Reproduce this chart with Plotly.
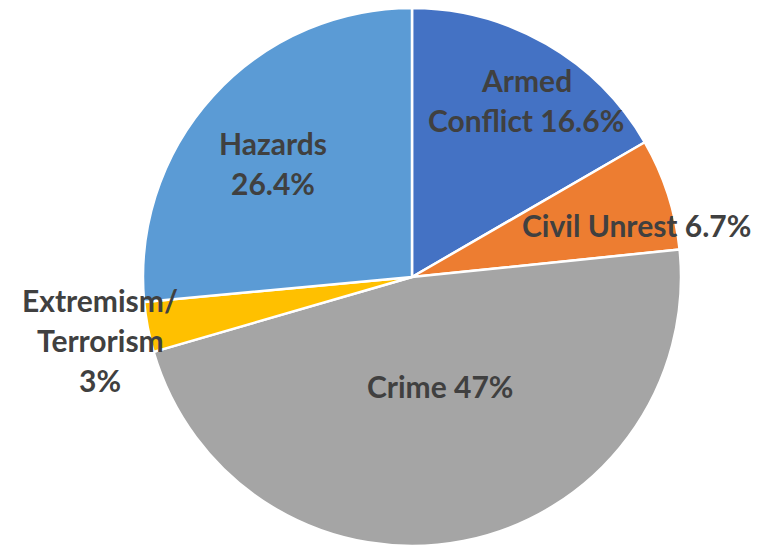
import plotly.graph_objects as go

categories = ["Armed Conflict", "Civil Unrest", "Crime", "Extremism/Terrorism", "Hazards"]
values = [16.6, 6.7, 47, 3, 26.4]
colors = ["#4472C4", "#ED7D31", "#A5A5A5", "#FFC000", "#5B9BD5"]

# label text lines (built from data) and their placement (style)
label_lines = [
    ["Armed", "Conflict {v}%"],
    ["Civil Unrest {v}%"],
    ["Crime {v}%"],
    ["Extremism/", "Terrorism", "{v}%"],
    ["Hazards", "{v}%"],
]
OFF = 8  # page body margin
label_pos = [  # (x px, y px of first line) in window coordinates
    (526, 80),
    (636, 225),
    (440, 386),
    (100, 300),
    (273, 143),
]
line_gap = 40

W, H = 771, 546
fig = go.Figure(go.Pie(
    labels=categories,
    values=values,
    sort=False,
    direction="clockwise",
    rotation=0,
    marker=dict(colors=colors, line=dict(color="white", width=2.5)),
    textinfo="none",
    hoverinfo="label+percent",
    domain=dict(x=[(141 - OFF) / W, (683 - OFF) / W],
                y=[1 - (546 - OFF) / H, 1]),
    showlegend=False,
))

annotations = []
for lines, v, (px, py) in zip(label_lines, values, label_pos):
    vs = f"{v:g}"
    for i, ln in enumerate(lines):
        annotations.append(dict(
            x=(px - OFF) / W, y=1 - (py - OFF + i * line_gap) / H,
            xref="paper", yref="paper",
            text="<b>" + ln.format(v=vs) + "</b>",
            showarrow=False,
            xanchor="center", yanchor="middle",
            font=dict(family="Lato", size=30, color="#404040"),
        ))

fig.update_layout(
    width=W, height=H,
    margin=dict(l=0, r=0, t=0, b=0),
    paper_bgcolor="white",
    plot_bgcolor="white",
    annotations=annotations,
)
fig.write_html("out.html")
